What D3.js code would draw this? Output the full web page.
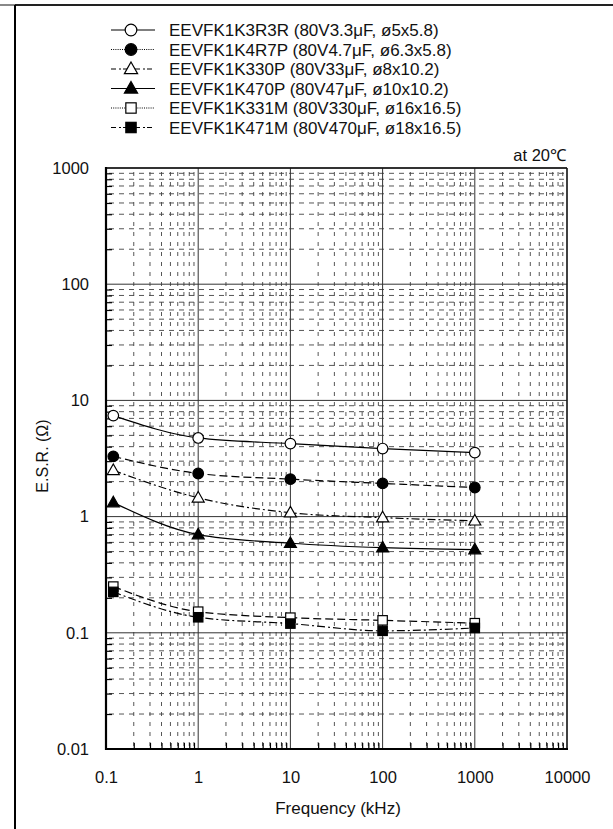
<!DOCTYPE html>
<html><head><meta charset="utf-8">
<script src="https://cdn.jsdelivr.net/npm/d3@7"></script>
<style>
html,body{margin:0;padding:0;background:#fff;}
text{font-family:"Liberation Sans",Arial,sans-serif;fill:#111;}
</style></head>
<body>
<svg id="chart" width="613" height="829"></svg>
<script>
// ---- data ----
const freq = [0.12, 1, 10, 100, 1000];
const esr3R3R = [7.4, 4.75, 4.25, 3.85, 3.55];
const esr4R7P = [3.3, 2.35, 2.1, 1.93, 1.78];
const esr330P = [2.5, 1.45, 1.08, 0.98, 0.92];
const esr470P = [1.32, 0.7, 0.59, 0.54, 0.52];
const esr331M = [0.25, 0.152, 0.135, 0.128, 0.121];
const esr471M = [0.225, 0.136, 0.12, 0.104, 0.11];
const seriesNames = [
  "EEVFK1K3R3R (80V3.3\u03bcF, \u00f85x5.8)",
  "EEVFK1K4R7P (80V4.7\u03bcF, \u00f86.3x5.8)",
  "EEVFK1K330P (80V33\u03bcF, \u00f88x10.2)",
  "EEVFK1K470P (80V47\u03bcF, \u00f810x10.2)",
  "EEVFK1K331M (80V330\u03bcF, \u00f816x16.5)",
  "EEVFK1K471M (80V470\u03bcF, \u00f818x16.5)"
];
const xTickLabels = ["0.1", "1", "10", "100", "1000", "10000"];
const yTickLabels = ["0.01", "0.1", "1", "10", "100", "1000"];
const xTitle = "Frequency (kHz)";
const yTitle = "E.S.R. (\u03a9)";
const note = "at 20\u2103";

// ---- styles ----
const styles = [
  {marker:"circle", fill:"#fff", dash:null, legDash:null},
  {marker:"circle", fill:"#000", dash:"8,4", legDash:"1,1.2"},
  {marker:"triangle", fill:"#fff", dash:"8,3,2,3", legDash:"5,3,2,2"},
  {marker:"triangle", fill:"#000", dash:null, legDash:null},
  {marker:"square", fill:"#fff", dash:"8,4", legDash:"1,1.2"},
  {marker:"square", fill:"#000", dash:"8,3,2,3", legDash:"5,3,2,2"}
];
const allSeries = [esr3R3R, esr4R7P, esr330P, esr470P, esr331M, esr471M];
const FONT = "Liberation Sans, Arial, sans-serif";

const svg = d3.select("#chart");
const L = 106, R = 567, T = 168, B = 749;
const x = d3.scaleLog().domain([0.1, 10000]).range([L, R]);
const y = d3.scaleLog().domain([0.01, 1000]).range([B, T]);

// frame lines
svg.append("line").attr("x1",0).attr("x2",15).attr("y1",5).attr("y2",5).attr("stroke","#888").attr("stroke-width",2);
svg.append("line").attr("x1",15).attr("x2",613).attr("y1",5).attr("y2",5).attr("stroke","#222").attr("stroke-width",2);
svg.append("line").attr("x1",15).attr("x2",15).attr("y1",5).attr("y2",829).attr("stroke","#000").attr("stroke-width",2);

// minor values
const xMinor = [], yMinor = [];
for (let e=-1; e<4; e++) for (let m=2; m<10; m++) xMinor.push(m*Math.pow(10,e));
for (let e=-2; e<3; e++) for (let m=2; m<10; m++) yMinor.push(m*Math.pow(10,e));
const xMajor = xTickLabels.map(Number), yMajor = yTickLabels.map(Number);

const g = svg.append("g");
// minor grid
g.selectAll(".hm").data(yMinor).enter().append("line")
  .attr("x1",L).attr("x2",R).attr("y1",d=>y(d)).attr("y2",d=>y(d))
  .attr("stroke","#444").attr("stroke-width",0.9).attr("stroke-dasharray","5,5").attr("stroke-dashoffset",-3);
g.selectAll(".vm").data(xMinor).enter().append("line")
  .attr("y1",B).attr("y2",T).attr("x1",d=>x(d)).attr("x2",d=>x(d))
  .attr("stroke","#444").attr("stroke-width",0.9).attr("stroke-dasharray","4,6").attr("stroke-dashoffset",-3);
// major grid
g.selectAll(".hM").data(yMajor).enter().append("line")
  .attr("x1",L).attr("x2",R).attr("y1",d=>y(d)).attr("y2",d=>y(d))
  .attr("stroke","#333").attr("stroke-width",1);
g.selectAll(".vM").data(xMajor).enter().append("line")
  .attr("y1",B).attr("y2",T).attr("x1",d=>x(d)).attr("x2",d=>x(d))
  .attr("stroke","#333").attr("stroke-width",1);

// axes
const axL = d3.axisLeft(y).tickValues(yMajor).tickSize(0).tickPadding(17).tickFormat((d,i)=>yTickLabels[i]);
const gL = svg.append("g").attr("transform",`translate(${L},0)`).call(axL);
const axB = d3.axisBottom(x).tickValues(xMajor).tickSize(0).tickPadding(22).tickFormat((d,i)=>xTickLabels[i]);
const gB = svg.append("g").attr("transform",`translate(0,${B})`).call(axB);
[gL,gB].forEach(a=>{a.select(".domain").remove(); a.selectAll("text").attr("font-size",16.5).attr("font-family",FONT).attr("fill","#111");});
// inner minor ticks
const tL = svg.append("g").attr("transform",`translate(${L},0)`).call(d3.axisLeft(y).tickValues(yMinor).tickSize(-6).tickFormat(""));
const tB = svg.append("g").attr("transform",`translate(0,${B})`).call(d3.axisBottom(x).tickValues(xMinor).tickSize(-6).tickFormat(""));
[tL,tB].forEach(a=>{a.select(".domain").remove(); a.selectAll("line").attr("stroke","#000").attr("stroke-width",1.2);});

// border
svg.append("line").attr("x1",L).attr("x2",R).attr("y1",T).attr("y2",T).attr("stroke","#111").attr("stroke-width",1.5);
svg.append("line").attr("x1",R).attr("x2",R).attr("y1",T).attr("y2",B).attr("stroke","#111").attr("stroke-width",1.3);
svg.append("line").attr("x1",L).attr("x2",L).attr("y1",T-1).attr("y2",B+1).attr("stroke","#000").attr("stroke-width",2.2);
svg.append("line").attr("x1",L-1).attr("x2",R+1).attr("y1",B).attr("y2",B).attr("stroke","#000").attr("stroke-width",2.2);

// markers
function drawMarker(sel, type, cx, cy, fill, s){
  s = s || 1;
  if (type==="circle") sel.append("circle").attr("cx",cx).attr("cy",cy).attr("r",5.3*s).attr("fill",fill).attr("stroke","#000").attr("stroke-width",1.2);
  else if (type==="triangle") sel.append("path").attr("d",`M${cx},${cy-6.3*s}L${cx+6*s},${cy+4.2*s}L${cx-6*s},${cy+4.2*s}Z`).attr("fill",fill).attr("stroke","#000").attr("stroke-width",1.2);
  else sel.append("rect").attr("x",cx-4.7*s).attr("y",cy-4.7*s).attr("width",9.4*s).attr("height",9.4*s).attr("fill",fill).attr("stroke","#000").attr("stroke-width",1.2);
}

// series lines
const line = d3.line().x(d=>x(d[0])).y(d=>y(d[1])).curve(d3.curveMonotoneX);
const gs = svg.append("g");
allSeries.forEach((vals,i)=>{
  const pts = freq.map((f,j)=>[f, vals[j]]);
  gs.append("path").attr("d",line(pts)).attr("fill","none").attr("stroke","#000").attr("stroke-width",1.2)
    .attr("stroke-dasharray",styles[i].dash);
});
allSeries.forEach((vals,i)=>{
  freq.forEach((f,j)=>drawMarker(gs, styles[i].marker, x(f), y(vals[j]), styles[i].fill));
});

// legend
const lg = svg.append("g");
seriesNames.forEach((name,i)=>{
  const cy = 30 + i*19.5;
  lg.append("line").attr("x1",111).attr("x2",155).attr("y1",cy).attr("y2",cy).attr("stroke","#000").attr("stroke-width",1.2)
    .attr("stroke-dasharray",styles[i].legDash);
  drawMarker(lg, styles[i].marker, 131, cy, styles[i].fill, 1.1);
  lg.append("text").attr("x",169).attr("y",cy).attr("dy","0.36em").attr("font-size",17).text(name);
});

svg.append("text").attr("x",566).attr("y",161).attr("text-anchor","end").attr("font-size",16.5).text(note);
svg.append("text").attr("x",338).attr("y",814).attr("text-anchor","middle").attr("font-size",17).text(xTitle);
svg.append("text").attr("transform",`translate(48,456) rotate(-90)`).attr("text-anchor","middle").attr("font-size",16).text(yTitle);
</script>
</body></html>
